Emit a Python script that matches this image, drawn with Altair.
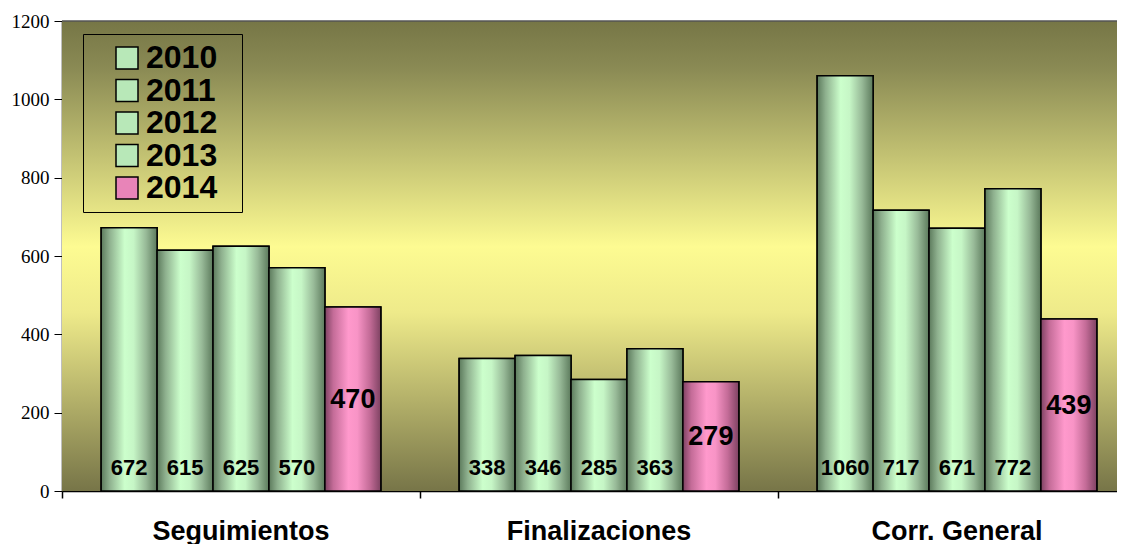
import altair as alt
import pandas as pd

categories = ["Seguimientos", "Finalizaciones", "Corr. General"]
years = ["2010", "2011", "2012", "2013", "2014"]
v2010 = [672, 338, 1060]
v2011 = [615, 346, 717]
v2012 = [625, 285, 671]
v2013 = [570, 363, 772]
v2014 = [470, 279, 439]

series = {"2010": v2010, "2011": v2011, "2012": v2012, "2013": v2013, "2014": v2014}
rows = []
for y in years:
    for c, v in zip(categories, series[y]):
        rows.append({"cat": c, "year": y, "value": v})
df = pd.DataFrame(rows)

W = 1074      # full plot width (cropped on the right by the window, as in the reference)
H = 470

FONT = "Liberation Sans"

green_grad = alt.LinearGradient(
    gradient="linear", x1=0, y1=0, x2=1, y2=0,
    stops=[
        alt.GradientStop(color="#5c7a5c", offset=0),
        alt.GradientStop(color="#8eb08e", offset=0.15),
        alt.GradientStop(color="#ccffcc", offset=0.42),
        alt.GradientStop(color="#c6f6c6", offset=0.58),
        alt.GradientStop(color="#98ba98", offset=0.8),
        alt.GradientStop(color="#5c7a5c", offset=1),
    ],
)
pink_grad = alt.LinearGradient(
    gradient="linear", x1=0, y1=0, x2=1, y2=0,
    stops=[
        alt.GradientStop(color="#7e4262", offset=0),
        alt.GradientStop(color="#c46c98", offset=0.15),
        alt.GradientStop(color="#ff99cc", offset=0.42),
        alt.GradientStop(color="#f894c6", offset=0.58),
        alt.GradientStop(color="#c46c98", offset=0.8),
        alt.GradientStop(color="#7e4262", offset=1),
    ],
)
bg_grad = alt.LinearGradient(
    gradient="linear", x1=0, y1=0, x2=0, y2=1,
    stops=[
        alt.GradientStop(color="#767646", offset=0),
        alt.GradientStop(color="#8a8a54", offset=0.1),
        alt.GradientStop(color="#fdfb92", offset=0.48),
        alt.GradientStop(color="#eeea8a", offset=0.62),
        alt.GradientStop(color="#777548", offset=1),
    ],
)

xenc = alt.X(
    "cat:N", sort=categories,
    scale=alt.Scale(paddingInner=0, paddingOuter=0),
    axis=alt.Axis(
        title=None, labelAngle=0, labelFont=FONT, labelFontSize=27,
        labelFontWeight="bold", labelColor="black", labelPadding=20,
        tickColor="black", tickSize=7, tickWidth=1.5, bandPosition=0,
        domainColor="black", domainWidth=1.5, labelLimit=400,
    ),
)
xoff = alt.XOffset("year:N", sort=years, scale=alt.Scale(paddingInner=0, paddingOuter=0.7))
yenc = alt.Y(
    "value:Q",
    scale=alt.Scale(domain=[0, 1200], nice=False),
    axis=alt.Axis(
        title=None, values=[0, 200, 400, 600, 800, 1000, 1200], grid=False,
        format="d",
        labelFont="Liberation Serif", labelFontSize=19, labelColor="black",
        tickColor="black", tickSize=8, domainColor="black", domainWidth=1.5,
        labelPadding=5,
    ),
)

background = alt.Chart(pd.DataFrame({"a": [0]})).mark_rect(fill=bg_grad).encode(
    x=alt.value(0), x2=alt.value(W), y=alt.value(0), y2=alt.value(H)
)

base = alt.Chart(df)

legend_bars = base.mark_bar(stroke="black", strokeWidth=1.5).encode(
    x=xenc, xOffset=xoff, y=yenc,
    color=alt.Color(
        "year:N", sort=years,
        scale=alt.Scale(domain=years, range=["#b8e8b8", "#b8e8b8", "#b8e8b8", "#b8e8b8", "#e884b8"]),
        legend=alt.Legend(
            title="0", titleOrient="right", titleOpacity=0, titleFontSize=20,
            titlePadding=5, titleFont=FONT, titleFontWeight="bold",
            orient="none", legendX=21, legendY=13,
            symbolType="square", symbolSize=484, symbolStrokeColor="black",
            symbolStrokeWidth=1.5, labelFont=FONT, labelFontSize=32,
            labelFontWeight="bold", labelColor="black", rowPadding=0.5,
            padding=8, symbolOffset=20, labelOffset=3,
            strokeColor="black",
        ),
    ),
)

green_bars = base.transform_filter("datum.year != '2014'").mark_bar(
    fill=green_grad, stroke="black", strokeWidth=1.5
).encode(x=xenc, xOffset=xoff, y=yenc)

pink_bars = base.transform_filter("datum.year == '2014'").mark_bar(
    fill=pink_grad, stroke="black", strokeWidth=1.5
).encode(x=xenc, xOffset=xoff, y=yenc)

green_text = base.transform_filter("datum.year != '2014'").mark_text(
    font=FONT, fontSize=22, fontWeight="bold", color="black",
    baseline="alphabetic", dy=-16
).encode(x=xenc, xOffset=xoff, y=alt.datum(0), text="value:Q")

pink_text = base.transform_filter("datum.year == '2014'").transform_calculate(
    mid="datum.value / 2"
).mark_text(
    font=FONT, fontSize=27, fontWeight="bold", color="black", baseline="middle", dy=1
).encode(x=xenc, xOffset=xoff, y=alt.Y("mid:Q"), text="value:Q")

top_rule = alt.Chart(pd.DataFrame({"a": [0]})).mark_rule(color="#555555", strokeWidth=1.5).encode(
    x=alt.value(0), x2=alt.value(W), y=alt.value(0)
)

chart = alt.layer(
    background, legend_bars, green_bars, pink_bars, green_text, pink_text, top_rule
).properties(
    width=W, height=H,
    autosize=alt.AutoSizeParams(type="none"),
    padding={"left": 54, "top": 13, "right": -19, "bottom": 53},
).configure_view(stroke=None).configure(background="white")

chart.save("out.html", embed_options={"renderer": "svg", "actions": False})
